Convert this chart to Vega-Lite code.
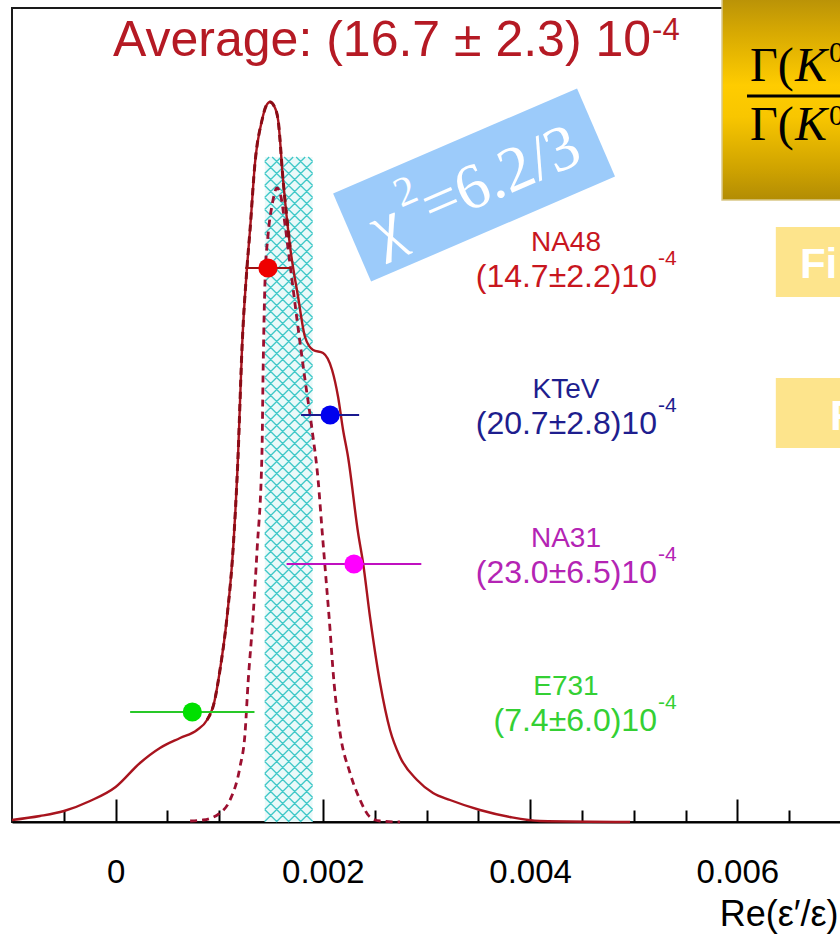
{
  "$schema": "https://vega.github.io/schema/vega-lite/v6.json",
  "width": 829,
  "height": 814,
  "autosize": {"type": "none"},
  "padding": {"left": 12, "top": 8, "right": 0, "bottom": 114},
  "background": "#ffffff",
  "config": {"view": {"stroke": "#1a1a1a", "strokeWidth": 2}, "font": "Liberation Sans"},
  "datasets": {
    "ideogram": [
      {"x": -0.001, "h": 2}, {"x": -0.00073, "h": 6}, {"x": -0.000498, "h": 11}, {"x": -0.000247, "h": 21},
      {"x": 0.0, "h": 35}, {"x": 0.000235, "h": 59}, {"x": 0.000428, "h": 74}, {"x": 0.000622, "h": 84},
      {"x": 0.000786, "h": 92}, {"x": 0.000882, "h": 102}, {"x": 0.00095, "h": 119}, {"x": 0.001007, "h": 152},
      {"x": 0.001075, "h": 205}, {"x": 0.001133, "h": 272}, {"x": 0.001181, "h": 365}, {"x": 0.00122, "h": 475},
      {"x": 0.001268, "h": 555}, {"x": 0.001297, "h": 592}, {"x": 0.001345, "h": 659}, {"x": 0.001413, "h": 702},
      {"x": 0.001452, "h": 716}, {"x": 0.00149, "h": 720}, {"x": 0.001529, "h": 716}, {"x": 0.001568, "h": 702},
      {"x": 0.001616, "h": 642}, {"x": 0.001684, "h": 575}, {"x": 0.001761, "h": 525}, {"x": 0.001828, "h": 485},
      {"x": 0.001906, "h": 472}, {"x": 0.002002, "h": 469}, {"x": 0.002089, "h": 452}, {"x": 0.002147, "h": 425},
      {"x": 0.002195, "h": 392}, {"x": 0.002243, "h": 365}, {"x": 0.00234, "h": 289}, {"x": 0.002388, "h": 259},
      {"x": 0.002455, "h": 205}, {"x": 0.002552, "h": 139}, {"x": 0.002648, "h": 92}, {"x": 0.002745, "h": 65},
      {"x": 0.002909, "h": 42}, {"x": 0.003063, "h": 29}, {"x": 0.003227, "h": 22}, {"x": 0.003516, "h": 12},
      {"x": 0.003806, "h": 5}, {"x": 0.004095, "h": 1}, {"x": 0.004964, "h": 0}
    ],
    "inner": [
      {"x": 0.000719, "h": 1}, {"x": 0.000844, "h": 2}, {"x": 0.001007, "h": 9}, {"x": 0.001104, "h": 22},
      {"x": 0.0012, "h": 55}, {"x": 0.001249, "h": 89}, {"x": 0.001278, "h": 139}, {"x": 0.001326, "h": 205},
      {"x": 0.001365, "h": 272}, {"x": 0.001413, "h": 372}, {"x": 0.001422, "h": 442}, {"x": 0.001442, "h": 542},
      {"x": 0.001471, "h": 587}, {"x": 0.00151, "h": 617}, {"x": 0.001558, "h": 634}, {"x": 0.001596, "h": 625},
      {"x": 0.001635, "h": 597}, {"x": 0.001684, "h": 557}, {"x": 0.001751, "h": 502}, {"x": 0.001828, "h": 442},
      {"x": 0.001896, "h": 392}, {"x": 0.001954, "h": 342}, {"x": 0.001992, "h": 292}, {"x": 0.002031, "h": 242},
      {"x": 0.00206, "h": 205}, {"x": 0.002108, "h": 139}, {"x": 0.002166, "h": 89}, {"x": 0.002262, "h": 49},
      {"x": 0.002359, "h": 22}, {"x": 0.002455, "h": 5}, {"x": 0.002552, "h": 1}, {"x": 0.002745, "h": 0}
    ],
    "average": [
      {"label": "Average", "avg": 0.00167, "lo": 0.00144, "hi": 0.0019}
    ],
    "measurements": [
      {"exp": "NA48", "value": 0.00147, "lo": 0.00125, "hi": 0.00169, "ypos": 554, "txt": "(14.7±2.2)10"},
      {"exp": "KTeV", "value": 0.00207, "lo": 0.00179, "hi": 0.00235, "ypos": 407, "txt": "(20.7±2.8)10"},
      {"exp": "NA31", "value": 0.0023, "lo": 0.00165, "hi": 0.00295, "ypos": 258, "txt": "(23.0±6.5)10"},
      {"exp": "E731", "value": 0.00074, "lo": 0.00014, "hi": 0.00134, "ypos": 110, "txt": "(7.4±6.0)10"}
    ]
  },
  "resolve": {"scale": {"color": "independent"}, "axis": {"x": "independent"}},
  "layer": [
    {
      "data": {"name": "average"},
      "mark": {"type": "rect", "color": "#eaf9f9"},
      "encoding": {
        "x": {"field": "lo", "type": "quantitative", "scale": {"domain": [-0.001, 0.007], "nice": false, "zero": false},
          "axis": {"orient": "bottom", "values": [-0.0005, 0.0005, 0.001, 0.0015, 0.0025, 0.003, 0.0035, 0.0045, 0.005, 0.0055, 0.0065],
            "tickSize": -12, "tickWidth": 2, "tickColor": "#000000", "domain": false, "grid": false, "labels": false, "title": null}},
        "x2": {"field": "hi"},
        "y": {"datum": 0, "type": "quantitative", "scale": {"domain": [0, 814], "nice": false, "zero": false}, "axis": null},
        "y2": {"datum": 665}
      }
    },
    {
      "data": {"name": "average"},
      "mark": {"type": "point", "filled": false, "size": 4, "color": "#40c8c8", "strokeWidth": 1.3, "opacity": 1,
        "shape": "M-24,-280L24,-328M-24,-268L24,-316M-24,-256L24,-304M-24,-244L24,-292M-24,-232L24,-280M-24,-220L24,-268M-24,-208L24,-256M-24,-196L24,-244M-24,-184L24,-232M-24,-172L24,-220M-24,-160L24,-208M-24,-148L24,-196M-24,-136L24,-184M-24,-124L24,-172M-24,-112L24,-160M-24,-100L24,-148M-24,-88L24,-136M-24,-76L24,-124M-24,-64L24,-112M-24,-52L24,-100M-24,-40L24,-88M-24,-28L24,-76M-24,-16L24,-64M-24,-4L24,-52M-24,8L24,-40M-24,20L24,-28M-24,32L24,-16M-24,44L24,-4M-24,56L24,8M-24,68L24,20M-24,80L24,32M-24,92L24,44M-24,104L24,56M-24,116L24,68M-24,128L24,80M-24,140L24,92M-24,152L24,104M-24,164L24,116M-24,176L24,128M-24,188L24,140M-24,200L24,152M-24,212L24,164M-24,224L24,176M-24,236L24,188M-24,248L24,200M-24,260L24,212M-24,272L24,224M-24,284L24,236M-24,296L24,248M-24,308L24,260M-24,320L24,272M-24,332L24,284M-24,-292L16.5,-332.5M-24,-304L4.5,-332.5M-24,-316L-7.5,-332.5M-24,-328L-19.5,-332.5M-12.5,332.5L24,296M-0.5,332.5L24,308M11.5,332.5L24,320M-24,-328L24,-280M-24,-316L24,-268M-24,-304L24,-256M-24,-292L24,-244M-24,-280L24,-232M-24,-268L24,-220M-24,-256L24,-208M-24,-244L24,-196M-24,-232L24,-184M-24,-220L24,-172M-24,-208L24,-160M-24,-196L24,-148M-24,-184L24,-136M-24,-172L24,-124M-24,-160L24,-112M-24,-148L24,-100M-24,-136L24,-88M-24,-124L24,-76M-24,-112L24,-64M-24,-100L24,-52M-24,-88L24,-40M-24,-76L24,-28M-24,-64L24,-16M-24,-52L24,-4M-24,-40L24,8M-24,-28L24,20M-24,-16L24,32M-24,-4L24,44M-24,8L24,56M-24,20L24,68M-24,32L24,80M-24,44L24,92M-24,56L24,104M-24,68L24,116M-24,80L24,128M-24,92L24,140M-24,104L24,152M-24,116L24,164M-24,128L24,176M-24,140L24,188M-24,152L24,200M-24,164L24,212M-24,176L24,224M-24,188L24,236M-24,200L24,248M-24,212L24,260M-24,224L24,272M-24,236L24,284M-24,248L24,296M-24,260L24,308M-24,272L24,320M-24,284L24,332M-24,296L12.5,332.5M-24,308L0.5,332.5M-24,320L-11.5,332.5M-16.5,-332.5L24,-292M-4.5,-332.5L24,-304M7.5,-332.5L24,-316M19.5,-332.5L24,-328"},
      "encoding": {
        "x": {"field": "avg", "type": "quantitative", "axis": null},
        "y": {"datum": 332.5, "type": "quantitative", "axis": null}
      }
    },
    {
      "data": {"name": "inner"},
      "mark": {"type": "line", "color": "#9c1030", "strokeWidth": 2.8, "strokeDash": [7, 5], "interpolate": "monotone"},
      "encoding": {
        "x": {"field": "x", "type": "quantitative", "axis": null},
        "y": {"field": "h", "type": "quantitative", "axis": null}
      }
    },
    {
      "data": {"name": "ideogram"},
      "mark": {"type": "line", "color": "#a8141e", "strokeWidth": 2.4, "interpolate": "monotone"},
      "encoding": {
        "x": {"field": "x", "type": "quantitative",
          "axis": {"orient": "bottom", "values": [0, 0.002, 0.004, 0.006], "tickSize": -23, "tickWidth": 2, "tickColor": "#000000",
            "domain": true, "domainColor": "#000000", "domainWidth": 2, "grid": false,
            "labelExpr": "datum.value == 0 ? '0' : format(datum.value, '.3f')",
            "labelFont": "Liberation Sans", "labelFontSize": 33, "labelColor": "#000000", "labelPadding": 57,
            "labelFlush": false, "labelOverlap": false,
            "title": "Re(ε′/ε)", "titleFont": "Liberation Sans", "titleFontSize": 36, "titleFontWeight": "normal",
            "titleColor": "#000000", "titleAlign": "right", "titleBaseline": "alphabetic", "titleX": 826, "titleY": 103}},
        "y": {"field": "h", "type": "quantitative", "axis": null}
      }
    },
    {
      "data": {"name": "ideogram"},
      "transform": [{"filter": "datum.x >= 0.00088 && datum.x <= 0.00176"}],
      "mark": {"type": "line", "color": "#8a0c16", "strokeWidth": 3, "strokeDash": [7, 5], "interpolate": "monotone"},
      "encoding": {
        "x": {"field": "x", "type": "quantitative", "axis": null},
        "y": {"field": "h", "type": "quantitative", "axis": null}
      }
    },
    {
      "data": {"name": "measurements"},
      "mark": {"type": "rule", "strokeWidth": 2},
      "encoding": {
        "x": {"field": "lo", "type": "quantitative", "axis": null},
        "x2": {"field": "hi"},
        "y": {"field": "ypos", "type": "quantitative", "axis": null},
        "color": {"field": "exp", "type": "nominal", "legend": null,
          "scale": {"domain": ["NA48", "KTeV", "NA31", "E731"], "range": ["#a01010", "#1a1a90", "#c010c0", "#28c828"]}}
      }
    },
    {
      "data": {"name": "measurements"},
      "mark": {"type": "point", "shape": "circle", "filled": true, "size": 370, "opacity": 1},
      "encoding": {
        "x": {"field": "value", "type": "quantitative", "axis": null},
        "y": {"field": "ypos", "type": "quantitative", "axis": null},
        "color": {"field": "exp", "type": "nominal", "legend": null,
          "scale": {"domain": ["NA48", "KTeV", "NA31", "E731"], "range": ["#ee0000", "#0000ee", "#ff00ff", "#00e000"]}}
      }
    },
    {
      "data": {"name": "measurements"},
      "mark": {"type": "text", "font": "Liberation Sans", "fontSize": 28, "align": "center", "baseline": "middle", "dy": -25},
      "encoding": {
        "x": {"datum": 0.004346, "type": "quantitative", "axis": null},
        "y": {"field": "ypos", "type": "quantitative", "axis": null},
        "text": {"field": "exp"},
        "color": {"field": "exp", "type": "nominal", "legend": null,
          "scale": {"domain": ["NA48", "KTeV", "NA31", "E731"], "range": ["#c8161e", "#1e1e8e", "#b424b4", "#34d034"]}}
      }
    },
    {
      "data": {"name": "measurements"},
      "mark": {"type": "text", "font": "Liberation Sans", "fontSize": 32, "align": "right", "baseline": "middle", "dy": 9},
      "encoding": {
        "x": {"datum": 0.005224, "type": "quantitative", "axis": null},
        "y": {"field": "ypos", "type": "quantitative", "axis": null},
        "text": {"field": "txt"},
        "color": {"field": "exp", "type": "nominal", "legend": null,
          "scale": {"domain": ["NA48", "KTeV", "NA31", "E731"], "range": ["#c8161e", "#1e1e8e", "#b424b4", "#34d034"]}}
      }
    },
    {
      "data": {"name": "measurements"},
      "mark": {"type": "text", "font": "Liberation Sans", "fontSize": 21, "align": "left", "baseline": "middle", "dy": -9, "dx": 1, "text": "-4"},
      "encoding": {
        "x": {"datum": 0.005224, "type": "quantitative", "axis": null},
        "y": {"field": "ypos", "type": "quantitative", "axis": null},
        "color": {"field": "exp", "type": "nominal", "legend": null,
          "scale": {"domain": ["NA48", "KTeV", "NA31", "E731"], "range": ["#c8161e", "#1e1e8e", "#b424b4", "#34d034"]}}
      }
    },
    {
      "data": {"values": [{}]},
      "mark": {"type": "text", "text": "Average: (16.7 ± 2.3) 10", "font": "Liberation Sans", "fontSize": 50, "color": "#b51a24", "align": "right", "baseline": "alphabetic"},
      "encoding": {
        "x": {"datum": 0.005167, "type": "quantitative", "axis": null},
        "y": {"datum": 766, "type": "quantitative", "axis": null}
      }
    },
    {
      "data": {"values": [{}]},
      "mark": {"type": "text", "text": "-4", "font": "Liberation Sans", "fontSize": 31, "color": "#b51a24", "align": "left", "baseline": "alphabetic", "dx": 1},
      "encoding": {
        "x": {"datum": 0.005167, "type": "quantitative", "axis": null},
        "y": {"datum": 782, "type": "quantitative", "axis": null}
      }
    },
    {
      "data": {"values": [{}]},
      "mark": {"type": "point", "shape": "M-1,-0.3614L1,-0.3614L1,0.3614L-1,0.3614Z", "size": 70543, "filled": true, "color": "#9ccbfa", "opacity": 1, "angle": -23.3},
      "encoding": {
        "x": {"datum": 0.003459, "type": "quantitative", "axis": null},
        "y": {"datum": 637, "type": "quantitative", "axis": null}
      }
    },
    {
      "data": {"values": [{}]},
      "mark": {"type": "text", "text": "χ", "font": "Liberation Serif", "fontSize": 66, "color": "#ffffff", "align": "left", "baseline": "alphabetic", "angle": -23.3, "dx": -112, "dy": 24},
      "encoding": {
        "x": {"datum": 0.003459, "type": "quantitative", "axis": null},
        "y": {"datum": 637, "type": "quantitative", "axis": null}
      }
    },
    {
      "data": {"values": [{}]},
      "mark": {"type": "text", "text": "2", "font": "Liberation Serif", "fontSize": 42, "color": "#ffffff", "align": "left", "baseline": "alphabetic", "angle": -23.3, "dx": -76, "dy": -8},
      "encoding": {
        "x": {"datum": 0.003459, "type": "quantitative", "axis": null},
        "y": {"datum": 637, "type": "quantitative", "axis": null}
      }
    },
    {
      "data": {"values": [{}]},
      "mark": {"type": "text", "text": "=6.2/3", "font": "Liberation Serif", "fontSize": 64, "color": "#ffffff", "align": "left", "baseline": "alphabetic", "angle": -23.3, "dx": -55, "dy": 22},
      "encoding": {
        "x": {"datum": 0.003459, "type": "quantitative", "axis": null},
        "y": {"datum": 637, "type": "quantitative", "axis": null}
      }
    },
    {
      "data": {"values": [{}]},
      "mark": {"type": "rect", "stroke": "#d9c787", "strokeWidth": 1.5,
        "color": {"gradient": "linear", "x1": 0, "y1": 0, "x2": 0, "y2": 1,
          "stops": [{"offset": 0, "color": "#b48e08"}, {"offset": 0.2, "color": "#d8aa02"}, {"offset": 0.45, "color": "#ffcc00"},
                    {"offset": 0.6, "color": "#f8c600"}, {"offset": 0.85, "color": "#cfa300"}, {"offset": 1, "color": "#b28c04"}]}},
      "encoding": {
        "x": {"datum": 0.005852, "type": "quantitative", "axis": null},
        "x2": {"datum": 0.0072},
        "y": {"datum": 622, "type": "quantitative", "axis": null},
        "y2": {"datum": 830}
      }
    },
    {
      "data": {"values": [{}]},
      "mark": {"type": "text", "text": "Γ(", "font": "Liberation Serif", "fontSize": 48, "color": "#000000", "align": "left", "baseline": "alphabetic"},
      "encoding": {
        "x": {"datum": 0.006122, "type": "quantitative", "axis": null},
        "y": {"datum": 741, "type": "quantitative", "axis": null}
      }
    },
    {
      "data": {"values": [{}]},
      "mark": {"type": "text", "text": "K", "font": "Liberation Serif", "fontStyle": "italic", "fontSize": 48, "color": "#000000", "align": "left", "baseline": "alphabetic"},
      "encoding": {
        "x": {"datum": 0.006556, "type": "quantitative", "axis": null},
        "y": {"datum": 741, "type": "quantitative", "axis": null}
      }
    },
    {
      "data": {"values": [{}]},
      "mark": {"type": "text", "text": "0", "font": "Liberation Serif", "fontSize": 30, "color": "#000000", "align": "left", "baseline": "alphabetic"},
      "encoding": {
        "x": {"datum": 0.006885, "type": "quantitative", "axis": null},
        "y": {"datum": 760, "type": "quantitative", "axis": null}
      }
    },
    {
      "data": {"values": [{}]},
      "mark": {"type": "rule", "color": "#000000", "strokeWidth": 3},
      "encoding": {
        "x": {"datum": 0.006093, "type": "quantitative", "axis": null},
        "x2": {"datum": 0.0072},
        "y": {"datum": 726, "type": "quantitative", "axis": null}
      }
    },
    {
      "data": {"values": [{}]},
      "mark": {"type": "text", "text": "Γ(", "font": "Liberation Serif", "fontSize": 48, "color": "#000000", "align": "left", "baseline": "alphabetic"},
      "encoding": {
        "x": {"datum": 0.006122, "type": "quantitative", "axis": null},
        "y": {"datum": 682, "type": "quantitative", "axis": null}
      }
    },
    {
      "data": {"values": [{}]},
      "mark": {"type": "text", "text": "K", "font": "Liberation Serif", "fontStyle": "italic", "fontSize": 48, "color": "#000000", "align": "left", "baseline": "alphabetic"},
      "encoding": {
        "x": {"datum": 0.006556, "type": "quantitative", "axis": null},
        "y": {"datum": 682, "type": "quantitative", "axis": null}
      }
    },
    {
      "data": {"values": [{}]},
      "mark": {"type": "text", "text": "0", "font": "Liberation Serif", "fontSize": 30, "color": "#000000", "align": "left", "baseline": "alphabetic"},
      "encoding": {
        "x": {"datum": 0.006885, "type": "quantitative", "axis": null},
        "y": {"datum": 697, "type": "quantitative", "axis": null}
      }
    },
    {
      "data": {"values": [{}]},
      "mark": {"type": "rect", "color": "#fde48c"},
      "encoding": {
        "x": {"datum": 0.006371, "type": "quantitative", "axis": null},
        "x2": {"datum": 0.0072},
        "y": {"datum": 525, "type": "quantitative", "axis": null},
        "y2": {"datum": 595}
      }
    },
    {
      "data": {"values": [{}]},
      "mark": {"type": "rect", "color": "#fde48c"},
      "encoding": {
        "x": {"datum": 0.006371, "type": "quantitative", "axis": null},
        "x2": {"datum": 0.0072},
        "y": {"datum": 374, "type": "quantitative", "axis": null},
        "y2": {"datum": 444}
      }
    },
    {
      "data": {"values": [{}]},
      "mark": {"type": "text", "text": "Fi", "font": "Liberation Sans", "fontWeight": "bold", "fontSize": 42, "color": "#ffffff", "align": "left", "baseline": "alphabetic"},
      "encoding": {
        "x": {"datum": 0.006604, "type": "quantitative", "axis": null},
        "y": {"datum": 544, "type": "quantitative", "axis": null}
      }
    },
    {
      "data": {"values": [{}]},
      "mark": {"type": "text", "text": "F", "font": "Liberation Sans", "fontWeight": "bold", "fontSize": 42, "color": "#ffffff", "align": "left", "baseline": "alphabetic"},
      "encoding": {
        "x": {"datum": 0.006894, "type": "quantitative", "axis": null},
        "y": {"datum": 392, "type": "quantitative", "axis": null}
      }
    }
  ]
}
